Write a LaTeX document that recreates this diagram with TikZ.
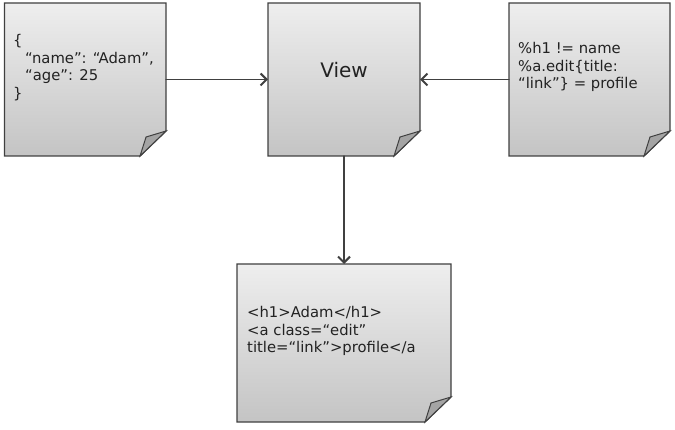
\documentclass[tikz,border=0pt]{standalone}
\usepackage{fontspec}
\setmainfont{DejaVu Sans}
\usetikzlibrary{arrows.meta,backgrounds}

\definecolor{pageedge}{HTML}{404040}
\definecolor{pagetop}{HTML}{EEEEEE}
\definecolor{pagebot}{HTML}{C4C4C4}
\definecolor{flapgrey}{HTML}{A4A4A4}
\definecolor{inkgrey}{HTML}{222222}

\tikzset{
  doc/.style={draw=none, inner sep=0pt, outer sep=0pt},
  pagebody/.style={draw=pageedge, line width=1.3pt, top color=pagetop, bottom color=pagebot},
  flap/.style={draw=pageedge, line width=1.0pt, fill=flapgrey},
  txt/.style={inner sep=0pt, align=left, text=inkgrey, font=\fontsize{14.8}{17.8}\selectfont},
  link/.style={draw=pageedge, line width=1.3pt, -{Straight Barb[length=6pt,width=12pt,line width=2pt]}},
}

% 折角纸：先画外框（右下切角），再补一块折页
\newcommand\pageshape[1]{%
  \path[pagebody] (#1.north west) -- (#1.north east) -- ([yshift=25pt]#1.south east)
    -- ([xshift=-26pt]#1.south east) -- (#1.south west) -- cycle;
  \path[flap] ([xshift=-26pt]#1.south east) -- ([xshift=-20pt,yshift=19pt]#1.south east)
    -- ([yshift=25pt]#1.south east) -- cycle;
}

\begin{document}
\begin{tikzpicture}[x=1pt, y=-1pt, line cap=round, line join=round]

  %% ════ 四张纸（= 节点）════
  \node[doc, minimum width=161.5pt, minimum height=153pt] (json) at ( 85.3, 79.5) {};
  \node[doc, minimum width=152pt,   minimum height=153pt] (view) at (344.0, 79.5) {};
  \node[doc, minimum width=161pt,   minimum height=153pt] (haml) at (589.5, 79.5) {};
  \node[doc, minimum width=214pt,   minimum height=158pt] (html) at (344.0,343.0) {};

  %% ════ 纸面 ════
  \begin{scope}[on background layer]
    \pageshape{json}
    \pageshape{view}
    \pageshape{haml}
    \pageshape{html}
  \end{scope}

  %% ════ 文字 ════
  \node[txt, anchor=west] (jsontext) at (13, 67.5) {\{\\\hspace*{12pt}“name”: “Adam”,\\\hspace*{12pt}“age”: 25\\\}};
  \node[txt, font=\fontsize{20}{24}\selectfont] (viewtext) at (344, 70) {View};
  \node[txt, anchor=west] (hamltext) at (518, 67) {\%h1 != name\\\%a.edit\{title:\\“link”\} = profile};
  \node[txt, anchor=west] (htmltext) at (247, 331) {<h1>Adam</h1>\\<a class=“edit”\\title=“link”>profile</a};

  %% ════ 连线 ════
  \draw[link] (json.east) -- (view.west);
  \draw[link] (haml.west) -- (view.east);
  \draw[link] (view.south) -- (html.north);

  \pgfresetboundingbox
  \path[use as bounding box] (0,0) rectangle (675,430);
\end{tikzpicture}
\end{document}
